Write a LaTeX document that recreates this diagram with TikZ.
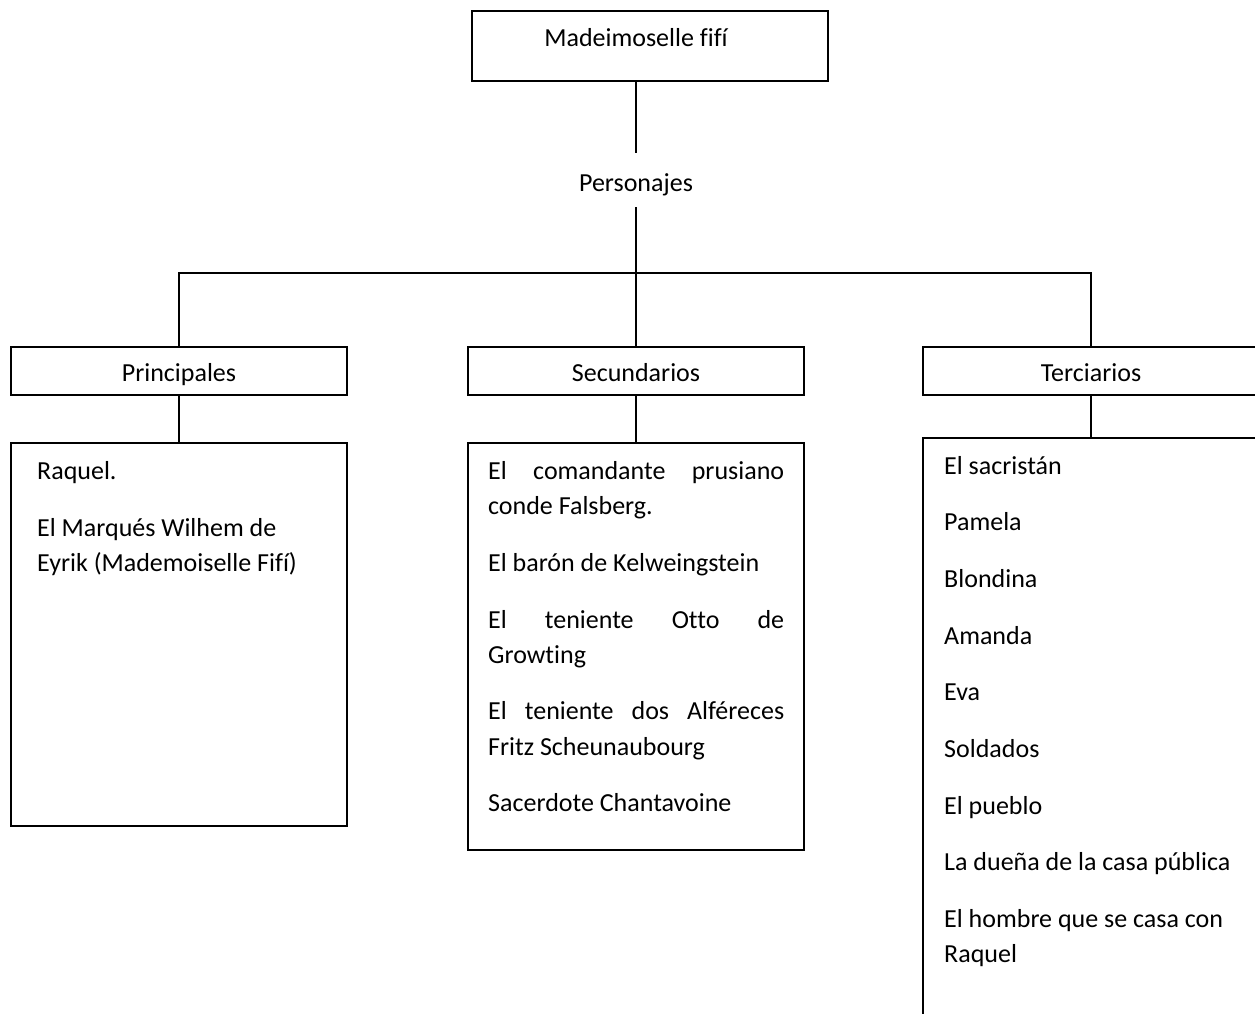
\documentclass[tikz,border=0pt]{standalone}
\usepackage{fontspec}
\setmainfont[Ligatures=NoCommon]{Carlito}
\begin{document}
\begin{tikzpicture}[x=1pt,y=-1pt,
  box/.style={draw, line width=1.2pt, inner sep=0pt, outer sep=0pt, anchor=north west},
  lbl/.style={inner sep=0pt, anchor=base, font=\fontsize{26}{35}\selectfont},
  item/.style={inner sep=0pt, anchor=base west, font=\fontsize{26}{35}\selectfont},
  link/.style={line width=1.2pt}]
\useasboundingbox (0,0) rectangle (1255,1013);
\clip (0,0) rectangle (1255,1013);
% title
\node[box, minimum width=356pt, minimum height=70pt] (title) at (472,11) {};
\node[lbl] (titletext) at (636,46.5) {Madeimoselle fifí};
\node[lbl] (pers) at (636,191) {Personajes};
\coordinate (persTop) at (636,153);
\coordinate (persBot) at (636,207);
\coordinate (bar) at (636,273);
% header boxes
\node[box, minimum width=336pt, minimum height=48pt] (princ) at (11,347) {};
\node[box, minimum width=336pt, minimum height=48pt] (sec) at (468,347) {};
\node[box, minimum width=336pt, minimum height=48pt] (terc) at (923,347) {};
\node[lbl] (princtext) at (179,381) {Principales};
\node[lbl] (sectext) at (636,381) {Secundarios};
\node[lbl] (terctext) at (1091,381) {Terciarios};
% list boxes
\node[box, minimum width=336pt, minimum height=383pt] (princlist) at (11,443) {};
\node[box, minimum width=336pt, minimum height=407pt] (seclist) at (468,443) {};
\node[box, minimum width=336pt, minimum height=700pt] (terclist) at (923,438) {};
% connectors
\draw[link] (title.south -| persTop) -- (persTop);
\draw[link] (persBot) -- (bar);
\draw[link] (princ.north) -- (princ.north |- bar) -- (terc.north |- bar) -- (terc.north);
\draw[link] (bar) -- (sec.north);
\draw[link] (princ.south) -- (princlist.north);
\draw[link] (sec.south) -- (seclist.north);
\draw[link] (terc.south) -- (terclist.north);
% principales
\node[item] (p1) at (37,479) {Raquel.};
\node[item] (p2) at (37,536) {El Marqués Wilhem de};
\node[item] (p3) at (37,571.5) {Eyrik (Mademoiselle Fifí)};
% secundarios
\node[item] (s1) at (488,479) {\makebox[296pt][s]{El comandante prusiano}};
\node[item] (s2) at (488,514.5) {conde Falsberg.};
\node[item] (s3) at (488,571) {El barón de Kelweingstein};
\node[item] (s4) at (488,628) {\makebox[296pt][s]{El teniente Otto de}};
\node[item] (s5) at (488,663.5) {Growting};
\node[item] (s6) at (488,719.5) {\makebox[296pt][s]{El teniente dos Alféreces}};
\node[item] (s7) at (488,755) {Fritz Scheunaubourg};
\node[item] (s8) at (488,811) {Sacerdote Chantavoine};
% terciarios
\node[item] (t1) at (944,474) {El sacristán};
\node[item] (t2) at (944,530.5) {Pamela};
\node[item] (t3) at (944,587) {Blondina};
\node[item] (t4) at (944,644) {Amanda};
\node[item] (t5) at (944,700.5) {Eva};
\node[item] (t6) at (944,757) {Soldados};
\node[item] (t7) at (944,814) {El pueblo};
\node[item] (t8) at (944,870.5) {La dueña de la casa pública};
\node[item] (t9) at (944,927) {El hombre que se casa con};
\node[item] (t10) at (944,962.5) {Raquel};
\end{tikzpicture}
\end{document}
